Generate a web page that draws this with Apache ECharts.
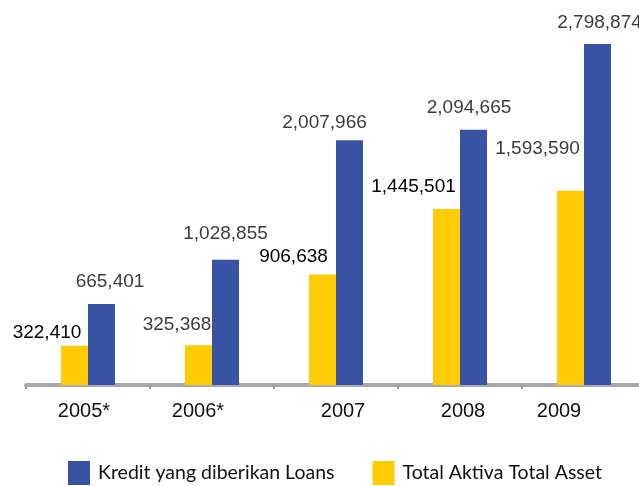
<!DOCTYPE html>
<html>
<head>
<meta charset="utf-8">
<script src="https://cdn.jsdelivr.net/npm/echarts@6/dist/echarts.min.js"></script>
<style>html,body{margin:0;padding:0;background:#fff;overflow:hidden;width:639px;height:486px;}#c{width:646px;height:486px;}</style>
</head>
<body>
<div id="c"></div>
<script>
var categories = ['2005*', '2006*', '2007', '2008', '2009'];
var kreditLoans = [665401, 1028855, 2007966, 2094665, 2798874];
var totalAktiva = [322410, 325368, 906638, 1445501, 1593590];
var kreditName = 'Kredit yang diberikan Loans';
var aktivaName = 'Total Aktiva Total Asset';

// label placement styles (offsets only)
var blueOff = [[8.5, -12.5], [0, -16], [-25, -7.5], [-4.5, -12.5], [2, -11.5]];
var yellowOff = [[-27.5, -2.5], [-21.5, -10.5], [-29, -7.5], [-33, -12.5], [-33, -32.5]];
var yellowCrisp = [true, false, true, true, false];
var axisShift = [-4, -14, 7, 3, -25];

function fmt(v) { return v.toLocaleString('en-US'); }

var chart = echarts.init(document.getElementById('c'), null, {renderer: 'canvas'});

var rich = {};
axisShift.forEach(function (s, i) {
  rich['a' + i] = {
    fontSize: 20, fontFamily: 'Liberation Sans, Arial, sans-serif', color: '#111',
    padding: s < 0 ? [0, -2 * s, 0, 0] : [0, 0, 0, 2 * s]
  };
});

chart.setOption({
  backgroundColor: '#ffffff',
  animation: false,
  grid: {left: 26, width: 620, top: 19.5, bottom: 101, containLabel: false},
  legend: {
    data: [kreditName, aktivaName],
    left: 68, top: 461, padding: 0,
    itemWidth: 22, itemHeight: 24, itemGap: 38,
    icon: 'rect',
    textStyle: {fontSize: 19.5, fontFamily: 'Lato, sans-serif', color: '#111', padding: [0, 0, 0, 3]}
  },
  xAxis: {
    type: 'category',
    data: categories,
    axisLine: {lineStyle: {color: '#a9a9a9', width: 4}},
    axisTick: {show: true, length: 4, lineStyle: {color: '#999', width: 2}},
    axisLabel: {
      margin: 16,
      formatter: function (v, i) { return '{a' + i + '|' + v + '}'; },
      rich: rich
    }
  },
  yAxis: {type: 'value', min: 0, max: 3000000, show: false, splitLine: {show: false}},
  series: [
    {
      name: aktivaName, type: 'bar', barWidth: 27, barGap: '0%',
      itemStyle: {color: '#fecb05'},
      data: totalAktiva.map(function (v, i) {
        return {value: v, label: {offset: yellowOff[i], color: yellowCrisp[i] ? '#000' : '#3c3c3c'}};
      }),
      label: {show: true, position: 'top', distance: 0, lineHeight: 20,
        fontSize: 19, fontFamily: 'Liberation Sans, Arial, sans-serif',
        formatter: function (p) { return fmt(p.value); }}
    },
    {
      name: kreditName, type: 'bar', barWidth: 27, barGap: '0%',
      itemStyle: {color: '#3953a4'},
      data: kreditLoans.map(function (v, i) {
        return {value: v, label: {offset: blueOff[i]}};
      }),
      label: {show: true, position: 'top', distance: 0, lineHeight: 20,
        fontSize: 19, fontFamily: 'Liberation Sans, Arial, sans-serif', color: '#3c3c3c',
        formatter: function (p) { return fmt(p.value); }}
    }
  ]
});
</script>
</body>
</html>
